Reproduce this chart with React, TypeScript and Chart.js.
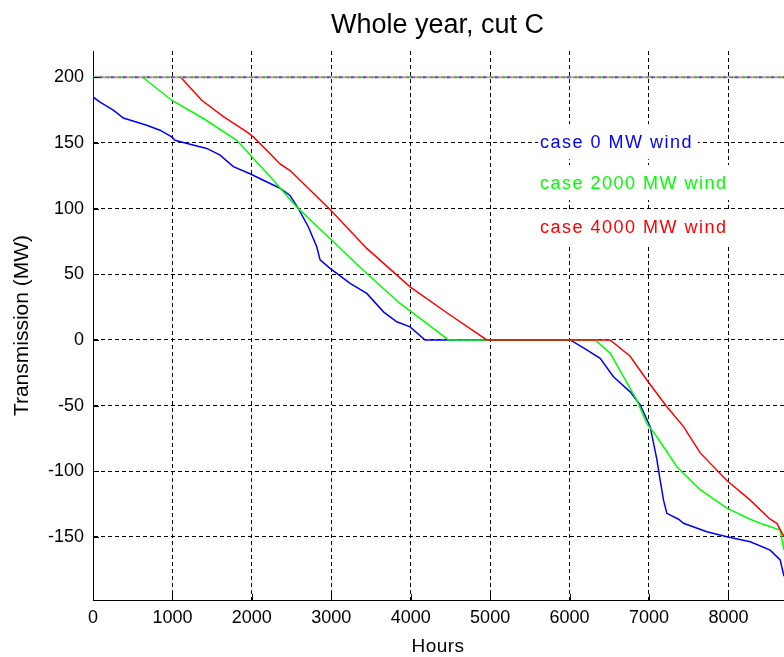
import React, { useEffect, useRef } from "react";
import { Chart, registerables } from "chart.js";

Chart.register(...registerables);

// Duration curves of transmission over cut C (hours sorted, MW)
const case0Hours = [0, 0, 88, 256, 382, 676, 844, 991, 1033, 1222, 1432, 1600, 1767, 1977, 2145, 2355, 2481, 2586, 2712, 2817, 2859, 2985, 3237, 3447, 3657, 3825, 3992, 4181, 6008, 6176, 6385, 6553, 6763, 6889, 7015, 7099, 7141, 7183, 7225, 7372, 7435, 7729, 7981, 8275, 8526, 8652, 8700];
const case0MW = [200, 185, 181, 175, 169, 163.5, 159.7, 154.6, 152, 149, 145.8, 140.7, 132, 126.5, 121.6, 115.5, 110, 100, 86, 71, 61, 54.5, 43, 35.4, 21.4, 13.8, 10, 0, 0, -6, -14, -28, -39.5, -49.5, -66, -91, -107, -122, -132, -136.5, -139.6, -146, -149.8, -153.6, -160, -167.5, -180];

const case2000Hours = [625, 991, 1390, 1810, 1977, 2271, 2565, 2985, 3447, 3866, 4202, 4475, 6322, 6511, 6679, 6847, 6973, 7099, 7351, 7519, 7645, 7981, 8275, 8400, 8652, 8700];
const case2000MW = [200, 182.5, 168.6, 152, 141, 121.6, 101.3, 77, 50.6, 27.8, 12.6, 0, 0, -10, -28, -45.8, -63.5, -73.7, -96.5, -106.6, -114, -128, -136.5, -139.6, -144.7, -160];

const case4000Hours = [1104, 1369, 1642, 1936, 2019, 2187, 2355, 2481, 2985, 3447, 3992, 4496, 4958, 6511, 6763, 6973, 7225, 7435, 7645, 7981, 8275, 8526, 8610, 8700];
const case4000MW = [200, 182.5, 170, 158.4, 154.6, 144.5, 134, 129, 99.3, 69.7, 40.4, 19, 0, 0, -12.4, -30.5, -50.8, -66, -86, -107, -122, -136.5, -139.6, -150];

// Transfer limit line
const limitHours = [0, 8700];
const limitMW = [200, 200];
const limitColors = ["#00c8ff", "#ffb000", "#c040c0", "#3040ff", "#40e040", "#ff4040"];

// Axis ticks
const hourTicks = [0, 1000, 2000, 3000, 4000, 5000, 6000, 7000, 8000];
const mwTicks = [-150, -100, -50, 0, 50, 100, 150, 200];

const caseNames = ["case 0 MW wind", "case 2000 MW wind", "case 4000 MW wind"];
const caseColors = ["#0000ff", "#00ff00", "#ff0000"];
// annotation anchors in data units (hours, MW at text baseline)
const noteHours = 5628;
const noteMW = [146, 114.8, 81.4];

const titleText = "Whole year, cut C";
const xTitleText = "Hours";
const yTitleText = "Transmission (MW)";

const FONT = "'Liberation Sans', Arial, Helvetica, sans-serif";

const toPoints = (xs: number[], ys: number[]) => xs.map((x, i) => ({ x, y: ys[i] }));

const decorPlugin = {
  id: "decor",
  afterDraw(chart: any) {
    const { ctx, chartArea, scales } = chart;
    const xs = scales.x;
    const ys = scales.y;
    ctx.save();

    // inward tick marks
    ctx.strokeStyle = "#000";
    ctx.lineWidth = 1;
    ctx.setLineDash([]);
    ctx.beginPath();
    xs.ticks.forEach((t: any) => {
      const px = Math.round(xs.getPixelForValue(t.value)) + 0.5;
      ctx.moveTo(px, chartArea.bottom);
      ctx.lineTo(px, chartArea.bottom - 6);
    });
    ys.ticks.forEach((t: any) => {
      const py = Math.round(ys.getPixelForValue(t.value)) + 0.5;
      ctx.moveTo(chartArea.left, py);
      ctx.lineTo(chartArea.left + 6, py);
    });
    ctx.stroke();

    // case annotations with white backgrounds
    ctx.font = `18px ${FONT}`;
    (ctx as any).letterSpacing = "1.5px";
    ctx.textAlign = "left";
    ctx.textBaseline = "alphabetic";
    const nx = xs.getPixelForValue(noteHours);
    caseNames.forEach((name, i) => {
      const by = ys.getPixelForValue(noteMW[i]);
      const w = ctx.measureText(name).width;
      ctx.fillStyle = "#fff";
      ctx.fillRect(nx - 2, by - 24, w + 7, 35);
      ctx.fillStyle = caseColors[i];
      ctx.fillText(name, nx, by);
    });

    // chart title
    (ctx as any).letterSpacing = "0px";
    ctx.fillStyle = "#000";
    ctx.textAlign = "center";
    ctx.font = `27px ${FONT}`;
    ctx.fillText(titleText, 437.5, 33);

    // axis titles
    ctx.font = `19px ${FONT}`;
    (ctx as any).letterSpacing = "0.5px";
    ctx.fillText(xTitleText, 438, 652);

    ctx.save();
    ctx.translate(28, (chartArea.top + chartArea.bottom) / 2);
    ctx.rotate(-Math.PI / 2);
    ctx.font = `21px ${FONT}`;
    (ctx as any).letterSpacing = "0px";
    ctx.fillText(yTitleText, 0, 0);
    ctx.restore();

    ctx.restore();
  },
};

export default function App() {
  const canvasRef = useRef<HTMLCanvasElement | null>(null);

  useEffect(() => {
    const canvas = canvasRef.current;
    if (!canvas) return;

    const limitSets = limitColors.map((c, i) => ({
      data: toPoints(limitHours, limitMW),
      borderColor: c,
      borderWidth: 2,
      borderDash: [2, 10],
      borderDashOffset: i * 2,
      pointRadius: 0,
      order: 0,
    }));

    const curveSets = [
      { data: toPoints(case4000Hours, case4000MW), borderColor: caseColors[2], order: 1 },
      { data: toPoints(case2000Hours, case2000MW), borderColor: caseColors[1], order: 2 },
      { data: toPoints(case0Hours, case0MW), borderColor: caseColors[0], order: 3 },
    ].map((d) => ({ ...d, borderWidth: 1.5, pointRadius: 0, tension: 0 }));

    const tickFont = { family: FONT, size: 18 };

    const chart = new Chart(canvas, {
      type: "line",
      data: { datasets: [...limitSets, ...curveSets] as any },
      options: {
        responsive: false,
        animation: false,
        devicePixelRatio: 1,
        parsing: false as any,
        layout: { padding: { top: 51, left: 0, right: 0, bottom: 0 } },
        plugins: {
          legend: { display: false },
          tooltip: { enabled: false },
          title: { display: false },
        },
        scales: {
          x: {
            type: "linear",
            min: 0,
            max: 8700,
            afterBuildTicks: (s: any) => {
              s.ticks = hourTicks.map((v) => ({ value: v }));
            },
            ticks: {
              autoSkip: false,
              maxRotation: 0,
              color: "#000",
              font: tickFont,
              padding: 7,
              callback: (v: any) => String(v),
            },
            grid: { color: "#000", lineWidth: 1, drawTicks: false },
            border: { display: true, color: "#000", width: 1, dash: [4, 3] },
            afterFit: (s: any) => {
              s.height = 57;
            },
          },
          y: {
            type: "linear",
            min: -198,
            max: 220,
            afterBuildTicks: (s: any) => {
              s.ticks = mwTicks.map((v) => ({ value: v }));
            },
            ticks: {
              autoSkip: false,
              color: "#000",
              font: tickFont,
              padding: 9,
              callback: (v: any) => String(v),
            },
            grid: { color: "#000", lineWidth: 1, drawTicks: false },
            border: { display: true, color: "#000", width: 1, dash: [4, 3] },
            afterFit: (s: any) => {
              s.width = 93;
            },
          },
        },
      } as any,
      plugins: [decorPlugin],
    });

    return () => chart.destroy();
  }, []);

  return (
    <div style={{ position: "absolute", left: 0, top: 0, width: 784, height: 657, background: "#fff" }}>
      <canvas ref={canvasRef} width={784} height={657} style={{ display: "block" }} />
    </div>
  );
}
